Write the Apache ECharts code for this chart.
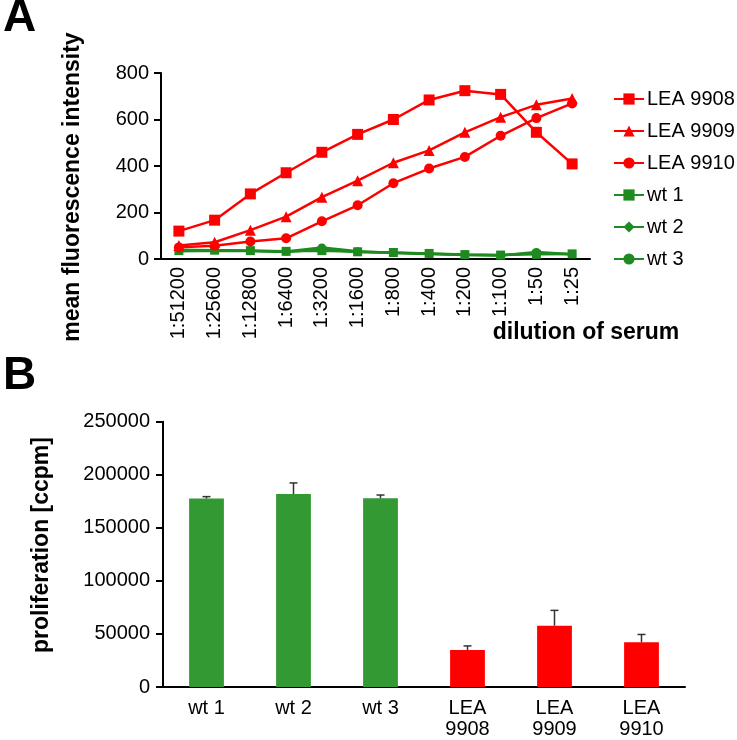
<!DOCTYPE html>
<html>
<head>
<meta charset="utf-8">
<script src="https://cdn.jsdelivr.net/npm/echarts@6/dist/echarts.min.js"></script>
<style>
  html, body { margin: 0; padding: 0; background: #fff; }
  #main { width: 737px; height: 740px; }
</style>
</head>
<body>
<div id="main"></div>
<script>
// panel A: dilution series
var dilutions = ["1:51200", "1:25600", "1:12800", "1:6400", "1:3200", "1:1600",
  "1:800", "1:400", "1:200", "1:100", "1:50", "1:25"];
var lea9908 = [120, 167, 280, 371, 459, 536, 600, 684, 724, 708, 545, 409];
var lea9909 = [58, 72, 124, 182, 266, 337, 414, 467, 545, 610, 663, 690];
var lea9910 = [50, 57, 75, 89, 162, 231, 326, 389, 439, 530, 606, 669];
var wt1 = [36, 38, 36, 33, 36, 31, 28, 24, 19, 17, 20, 22];
var wt2 = [33, 35, 34, 30, 42, 30, 27, 23, 18, 16, 26, 20];
var wt3 = [40, 38, 35, 32, 50, 33, 26, 22, 17, 15, 30, 20];

// panel B: proliferation
var groups = ["wt 1", "wt 2", "wt 3", "LEA\n9908", "LEA\n9909", "LEA\n9910"];
var prolif = [177600, 181800, 177800, 34800, 57800, 42100];
var prolifErr = [1800, 10500, 3100, 3900, 14400, 7400];

var RED = "#ff0000";
var GREEN = "#1f8a1f";
var BAR_GREEN = "#339933";
var FONT = "'Liberation Sans', Arial, sans-serif";

var chart = echarts.init(document.getElementById("main"));

function lineSeries(name, data, color, symbol, size) {
  return {
    name: name,
    type: "line",
    xAxisIndex: 0,
    yAxisIndex: 0,
    data: data,
    symbol: symbol,
    symbolSize: size,
    showSymbol: true,
    lineStyle: { color: color, width: 2.5 },
    itemStyle: { color: color },
    emphasis: { disabled: true }
  };
}

var barColors = [BAR_GREEN, BAR_GREEN, BAR_GREEN, RED, RED, RED];
var errData = prolif.map(function (v, i) { return [i, v, prolifErr[i]]; });

var option = {
  animation: false,
  textStyle: { fontFamily: FONT },
  grid: [
    { left: 161, top: 73, width: 429, height: 186 },
    { left: 163, top: 421.7, width: 522, height: 271.3 }
  ],
  legend: {
    orient: "vertical",
    left: 608,
    top: 84,
    itemWidth: 30,
    itemHeight: 14,
    itemGap: 12,
    textStyle: { fontSize: 20, color: "#000", fontFamily: FONT, padding: [0, 0, 0, -2] },
    data: ["LEA 9908", "LEA 9909", "LEA 9910", "wt 1", "wt 2", "wt 3"]
  },
  xAxis: [
    {
      type: "category",
      gridIndex: 0,
      data: dilutions,
      boundaryGap: true,
      axisLine: { lineStyle: { color: "#000", width: 2 } },
      axisTick: { length: 7, lineStyle: { color: "#000", width: 2 } },
      axisLabel: { rotate: 90, margin: 8, fontSize: 20, color: "#000", fontFamily: FONT, interval: 0 }
    },
    {
      type: "category",
      gridIndex: 1,
      data: groups,
      axisLine: { lineStyle: { color: "#000", width: 2 } },
      axisTick: { length: 7, lineStyle: { color: "#000", width: 2 } },
      axisLabel: { margin: 11, fontSize: 20, lineHeight: 21, color: "#000", fontFamily: FONT, interval: 0 }
    }
  ],
  yAxis: [
    {
      type: "value",
      gridIndex: 0,
      min: 0,
      max: 800,
      interval: 200,
      splitLine: { show: false },
      axisLine: { show: true, lineStyle: { color: "#000", width: 2 } },
      axisTick: { show: true, length: 7, lineStyle: { color: "#000", width: 2 } },
      axisLabel: { margin: 12, fontSize: 20, color: "#000", fontFamily: FONT }
    },
    {
      type: "value",
      gridIndex: 1,
      min: 0,
      max: 250000,
      interval: 50000,
      splitLine: { show: false },
      axisLine: { show: true, lineStyle: { color: "#000", width: 2 } },
      axisTick: { show: true, length: 7, lineStyle: { color: "#000", width: 2 } },
      axisLabel: {
        margin: 13, fontSize: 20, color: "#000", fontFamily: FONT,
        formatter: function (v) { return String(v); }
      }
    }
  ],
  series: [
    lineSeries("wt 1", wt1, GREEN, "rect", 9),
    lineSeries("wt 2", wt2, GREEN, "diamond", 6),
    lineSeries("wt 3", wt3, GREEN, "circle", 8),
    lineSeries("LEA 9908", lea9908, RED, "rect", 11),
    lineSeries("LEA 9909", lea9909, RED, "triangle", 11),
    lineSeries("LEA 9910", lea9910, RED, "circle", 10),
    {
      type: "bar",
      xAxisIndex: 1,
      yAxisIndex: 1,
      barWidth: "40%",
      data: prolif.map(function (v, i) {
        return { value: v, itemStyle: { color: barColors[i] } };
      }),
      emphasis: { disabled: true }
    },
    {
      type: "custom",
      xAxisIndex: 1,
      yAxisIndex: 1,
      z: 5,
      data: errData,
      encode: { x: 0, y: 1 },
      renderItem: function (params, api) {
        var i = api.value(0);
        var base = api.coord([i, api.value(1)]);
        var top = api.coord([i, api.value(1) + api.value(2)]);
        var st = { stroke: "#333", lineWidth: 1.5 };
        return {
          type: "group",
          children: [
            { type: "line", shape: { x1: base[0], y1: base[1], x2: top[0], y2: top[1] }, style: st },
            { type: "line", shape: { x1: top[0] - 4, y1: top[1], x2: top[0] + 4, y2: top[1] }, style: st }
          ]
        };
      }
    }
  ],
  graphic: [
    { type: "text", left: 3, top: -5, style: { text: "A", font: "bold 46px " + FONT, fill: "#000" } },
    { type: "text", left: 3, top: 353, style: { text: "B", font: "bold 46px " + FONT, fill: "#000" } },
    {
      type: "text", x: 73, y: 187, rotation: Math.PI / 2,
      style: { text: "mean fluorescence intensity", font: "bold 23px " + FONT, fill: "#000", align: "center", verticalAlign: "middle" }
    },
    {
      type: "text", x: 586, y: 333,
      style: { text: "dilution of serum", font: "bold 23px " + FONT, fill: "#000", align: "center", verticalAlign: "middle" }
    },
    {
      type: "text", x: 42, y: 545, rotation: Math.PI / 2,
      style: { text: "proliferation [ccpm]", font: "bold 23px " + FONT, fill: "#000", align: "center", verticalAlign: "middle" }
    }
  ]
};

chart.setOption(option);
</script>
</body>
</html>
